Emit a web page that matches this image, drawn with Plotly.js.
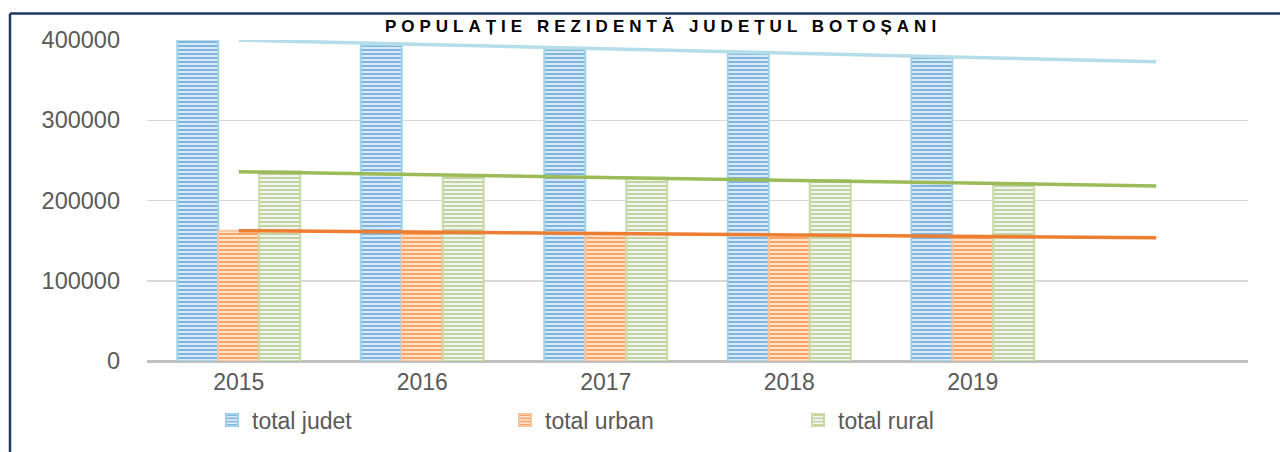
<!DOCTYPE html>
<html>
<head>
<meta charset="utf-8">
<script src="https://cdn.plot.ly/plotly-3.0.1.min.js"></script>
<style>
  html, body { margin: 0; padding: 0; background: #ffffff; }
  #chart { width: 1280px; height: 452px; }
  .gtitle { letter-spacing: 5px; }
</style>
</head>
<body>
<div id="chart"></div>
<script>
// ---- data ----
const years = ['2015', '2016', '2017', '2018', '2019'];
const totalJudet = [400600, 393800, 388800, 383400, 378800];
const totalUrban = [162300, 160600, 158900, 157000, 155200];
const totalRural = [236300, 231500, 228500, 225300, 221800];
const seriesNames = ['total judet', 'total urban', 'total rural'];
const yTicks = [0, 100000, 200000, 300000, 400000];

// ---- layout geometry ----
const W = 1280, H = 452;
const ML = 147, MR = 32, MT = 40, MB = 91;
const PW = W - ML - MR, PH = H - MT - MB;

const xs = years.map((_, i) => i + 1);

// Linear trend (least squares) extended one period forward, like Excel
function trend(vals) {
  const n = vals.length;
  const xm = (n + 1) / 2;
  const ym = vals.reduce((a, b) => a + b, 0) / n;
  let sxy = 0, sxx = 0;
  vals.forEach((v, i) => { const dx = (i + 1) - xm; sxy += dx * (v - ym); sxx += dx * dx; });
  const b = sxy / sxx, a = ym - b * xm;
  const tx = [1, n + 1];
  return { x: tx, y: tx.map(t => a + b * t) };
}

const barStyles = [
  { fill: '#dce9f6', fg: '#7fb6df', line: '#9fd3e6' },
  { fill: '#fde2cc', fg: '#f9a467', line: '#f8c49c' },
  { fill: '#f3f3f3', fg: '#c2d49d', line: '#c8dba4' }
];
const trendColors = ['#b4dde8', '#ed7d31', '#9bbb59'];
const allSeries = [totalJudet, totalUrban, totalRural];

const traces = [];
allSeries.forEach((vals, k) => {
  traces.push({
    type: 'bar',
    name: seriesNames[k],
    x: xs,
    y: vals,
    marker: {
      color: barStyles[k].fill,
      line: { color: barStyles[k].line, width: 2 },
      pattern: { shape: '-', fgcolor: barStyles[k].fg, bgcolor: barStyles[k].fill, size: 4, solidity: 0.5 }
    },
    hoverinfo: 'x+y'
  });
});
allSeries.forEach((vals, k) => {
  const t = trend(vals);
  traces.push({
    type: 'scatter',
    mode: 'lines',
    x: t.x,
    y: t.y,
    line: { color: trendColors[k], width: 3.5 },
    showlegend: false,
    cliponaxis: false,
    hoverinfo: 'skip'
  });
});

const px = v => (v - ML) / PW;   // pixel -> paper x
const py = v => (H - MB - v) / PH; // pixel -> paper y

const FONT = '"Liberation Sans", Arial, sans-serif';

const layout = {
  width: W, height: H,
  margin: { l: ML, r: MR, t: MT, b: MB, pad: 0, autoexpand: false },
  paper_bgcolor: '#ffffff',
  plot_bgcolor: '#ffffff',
  font: { family: FONT, color: '#595959', size: 23 },
  title: {
    text: 'POPULAȚIE REZIDENTĂ JUDEȚUL BOTOȘANI',
    font: { family: FONT, size: 17, color: '#000000', weight: 'bold' },
    x: 663 / W, xanchor: 'center', xref: 'container',
    y: 1 - 26 / H, yanchor: 'middle'
  },
  barmode: 'group',
  bargap: 0.33,
  bargroupgap: 0,
  xaxis: {
    range: [0.5, 6.5],
    tickmode: 'array',
    tickvals: xs,
    ticktext: years,
    showgrid: false,
    zeroline: false,
    showline: false,
    ticks: '',
    ticklabelstandoff: 5,
    tickfont: { family: FONT, size: 23, color: '#595959' },
    fixedrange: true
  },
  yaxis: {
    range: [0, 400000],
    tickmode: 'array',
    tickvals: yTicks,
    ticktext: yTicks.map(String),
    showgrid: true,
    gridcolor: '#d9d9d9',
    gridwidth: 1.5,
    zeroline: true,
    zerolinecolor: '#bfbfbf',
    zerolinewidth: 3,
    showline: false,
    ticks: '',
    ticklabelstandoff: 26,
    tickfont: { family: FONT, size: 23.5, color: '#595959' },
    fixedrange: true
  },
  legend: {
    orientation: 'h',
    x: px(212), xanchor: 'left',
    y: py(420), yanchor: 'middle',
    entrywidth: 248, entrywidthmode: 'pixels',
    font: { family: FONT, size: 23, color: '#595959' },
    bgcolor: 'rgba(0,0,0,0)',
    traceorder: 'normal'
  },
  shapes: [
    { type: 'line', xref: 'paper', yref: 'paper', x0: px(10), x1: px(W + 5), y0: py(13.5), y1: py(13.5),
      line: { color: '#1f3864', width: 2.5 } },
    { type: 'line', xref: 'paper', yref: 'paper', x0: px(10), x1: px(10), y0: py(13.5), y1: py(H + 5),
      line: { color: '#1f3864', width: 2.5 } }
  ],
  showlegend: true
};

Plotly.newPlot('chart', traces, layout, { displayModeBar: false, staticPlot: true });
</script>
</body>
</html>
